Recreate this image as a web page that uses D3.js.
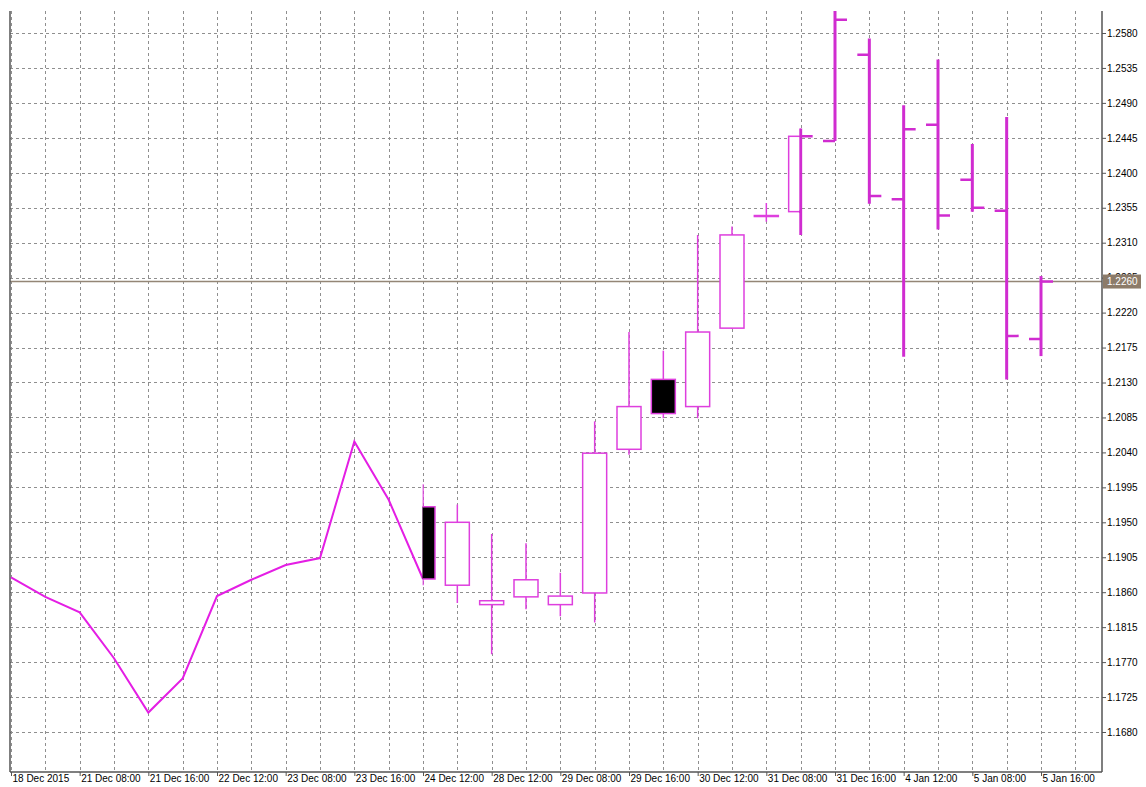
<!DOCTYPE html>
<html>
<head>
<meta charset="utf-8">
<script src="https://cdn.jsdelivr.net/npm/d3@7"></script>
<style>
  body { margin: 0; background: #fff; }
  text { font-family: "Liberation Sans", Arial, sans-serif; font-size: 10px; fill: #000; }
</style>
</head>
<body>
<div id="chart"></div>
<script>
//Time labels, one on every second bar
const timeLabels = ["18 Dec 2015", "21 Dec 08:00", "21 Dec 16:00", "22 Dec 12:00", "23 Dec 08:00",
  "23 Dec 16:00", "24 Dec 12:00", "28 Dec 12:00", "29 Dec 08:00", "29 Dec 16:00", "30 Dec 12:00",
  "31 Dec 08:00", "31 Dec 16:00", "4 Jan 12:00", "5 Jan 08:00", "5 Jan 16:00"];

//Price labels on the right axis
const priceTicks = [1.1680, 1.1725, 1.1770, 1.1815, 1.1860, 1.1905, 1.1950, 1.1995, 1.2040, 1.2085,
  1.2130, 1.2175, 1.2220, 1.2265, 1.2310, 1.2355, 1.2400, 1.2445, 1.2490, 1.2535, 1.2580];

//Bars 0..12 drawn as a line (close only)
const lineCloses = [1.1879, 1.1854, 1.1834, 1.1775, 1.1705, 1.1749, 1.1855, 1.1876, 1.1895,
  1.1904, 1.2054, 1.1979, 1.1877];

//Bars 12..30 with full OHLC: 12..23 as candles, 23..30 as bars
const ohlcStart = 12;
const candleEnd = 23;
const opens  = [1.1970, 1.1869, 1.1844, 1.1854, 1.1844, 1.1859, 1.2044, 1.2134, 1.2099, 1.2200,
  1.2345, 1.2350, 1.2441, 1.2552, 1.2366, 1.2462, 1.2391, 1.2351, 1.2186];
const highs  = [1.1999, 1.1973, 1.1935, 1.1923, 1.1885, 1.2080, 1.2195, 1.2171, 1.2320, 1.2331,
  1.2361, 1.2457, 1.2615, 1.2573, 1.2487, 1.2546, 1.2437, 1.2472, 1.2267];
const lows   = [1.1869, 1.1846, 1.1780, 1.1838, 1.1829, 1.1821, 1.2037, 1.2084, 1.2084, 1.2199,
  1.2337, 1.2320, 1.2441, 1.2360, 1.2163, 1.2327, 1.2350, 1.2134, 1.2164];
const closes = [1.1877, 1.1950, 1.1849, 1.1876, 1.1855, 1.2039, 1.2099, 1.2090, 1.2195, 1.2320,
  1.2345, 1.2447, 1.2597, 1.2370, 1.2456, 1.2345, 1.2355, 1.2190, 1.2260];

const currentPrice = 1.2260;

/////////////////////////////////////////////////////////
//////////////////// Layout & scales ////////////////////
/////////////////////////////////////////////////////////

const W = 1146, H = 787;
const plot = {left: 10, right: 1102, top: 11, bottom: 772};
const barCount = lineCloses.length + opens.length - 1;   //31 bars

const x = d3.scaleLinear().domain([0, barCount - 1]).range([11, 1041]);
const y = d3.scaleLinear().domain([1.1680, 1.2580]).range([732, 33]);
const step = x(1) - x(0);
const bodyHalf = 12;

const bars = opens.map((o, i) => ({i: i + ohlcStart, o: o, h: highs[i], l: lows[i], c: closes[i]}));

const svg = d3.select("#chart").append("svg")
  .attr("width", W).attr("height", H);

const defs = svg.append("defs");
function clip(id, x0, x1) {
  defs.append("clipPath").attr("id", id).append("rect")
    .attr("x", x0).attr("y", plot.top).attr("width", x1 - x0).attr("height", plot.bottom - plot.top);
}
clip("clipLine", plot.left, x(ohlcStart) + 1);
clip("clipCandle", x(ohlcStart) - 0.5, x(candleEnd));
clip("clipBar", x(candleEnd) - 1.5, plot.right);

/////////////////////////////////////////////////////////
///////////////////////// Grid //////////////////////////
/////////////////////////////////////////////////////////

const grid = svg.append("g").attr("class", "grid")
  .style("stroke", "#8f8f8f").style("stroke-width", 1).style("stroke-dasharray", "3,3");

grid.selectAll(".hgrid").data(priceTicks).enter().append("line")
  .attr("x1", plot.left).attr("x2", plot.right)
  .attr("y1", d => Math.round(y(d)) + 0.5).attr("y2", d => Math.round(y(d)) + 0.5);

grid.selectAll(".vgrid").data(d3.range(0, barCount + 1)).enter().append("line")
  .attr("x1", d => Math.round(x(d)) + 0.5).attr("x2", d => Math.round(x(d)) + 0.5)
  .attr("y1", plot.top).attr("y2", plot.bottom);

//Current price line
svg.append("line")
  .attr("x1", plot.left).attr("x2", plot.right)
  .attr("y1", y(currentPrice)).attr("y2", y(currentPrice))
  .style("stroke", "#948676").style("stroke-width", 1.5);

/////////////////////////////////////////////////////////
///////////////////////// Line //////////////////////////
/////////////////////////////////////////////////////////

svg.append("path")
  .datum(lineCloses)
  .attr("clip-path", "url(#clipLine)")
  .attr("d", d3.line().x((d, i) => x(i)).y(d => y(d)))
  .style("fill", "none").style("stroke", "#e41ee4").style("stroke-width", 2);

/////////////////////////////////////////////////////////
/////////////////////// Candles /////////////////////////
/////////////////////////////////////////////////////////

const candles = svg.append("g").attr("clip-path", "url(#clipCandle)")
  .selectAll(".candle").data(bars.filter(d => d.i <= candleEnd)).enter()
  .append("g").attr("class", "candle");

candles.append("line")
  .attr("x1", d => x(d.i)).attr("x2", d => x(d.i))
  .attr("y1", d => y(d.h)).attr("y2", d => y(d.l))
  .style("stroke", "#de3fde").style("stroke-width", 1.5);

candles.append("rect")
  .attr("x", d => x(d.i) - bodyHalf)
  .attr("width", bodyHalf * 2)
  .attr("y", d => y(Math.max(d.o, d.c)))
  .attr("height", d => Math.max(1, Math.abs(y(d.o) - y(d.c))))
  .style("fill", d => d.c < d.o ? "#000" : "#fff")
  .style("stroke", "#de3fde").style("stroke-width", 1.5);

/////////////////////////////////////////////////////////
///////////////////////// Bars //////////////////////////
/////////////////////////////////////////////////////////

const ohlcBars = svg.append("g").attr("clip-path", "url(#clipBar)")
  .selectAll(".bar").data(bars.filter(d => d.i >= candleEnd)).enter()
  .append("g").attr("class", "bar")
  .style("stroke", "#d02cd0");

ohlcBars.append("line")
  .attr("x1", d => x(d.i)).attr("x2", d => x(d.i))
  .attr("y1", d => y(d.h)).attr("y2", d => y(d.l))
  .style("stroke-width", 3);

ohlcBars.append("line")
  .attr("x1", d => x(d.i) - bodyHalf).attr("x2", d => x(d.i))
  .attr("y1", d => y(d.o)).attr("y2", d => y(d.o))
  .style("stroke-width", 2.5);

ohlcBars.append("line")
  .attr("x1", d => x(d.i)).attr("x2", d => x(d.i) + bodyHalf)
  .attr("y1", d => y(d.c)).attr("y2", d => y(d.c))
  .style("stroke-width", 2.5);

/////////////////////////////////////////////////////////
///////////////////////// Axes //////////////////////////
/////////////////////////////////////////////////////////

const frame = svg.append("g").style("stroke", "#555").style("stroke-width", 1.5);
frame.append("line").attr("x1", plot.left).attr("x2", plot.left).attr("y1", plot.top).attr("y2", plot.bottom);
frame.append("line").attr("x1", plot.right).attr("x2", plot.right).attr("y1", plot.top).attr("y2", plot.bottom);
frame.append("line").attr("x1", plot.left).attr("x2", plot.right).attr("y1", plot.bottom).attr("y2", plot.bottom);

//Right price axis
const yAxis = d3.axisRight(y).tickValues(priceTicks).tickSize(4).tickFormat(d3.format(".4f"));
svg.append("g")
  .attr("transform", "translate(" + plot.right + ",0)")
  .call(yAxis)
  .call(g => g.select(".domain").remove())
  .call(g => g.selectAll("line").style("stroke", "#555"))
  .call(g => g.selectAll("text").attr("x", 5).style("font-family", "Liberation Sans, Arial, sans-serif").style("font-size", "10px").attr("fill", "#000"));

//Bottom time axis, labels left aligned to their tick
const timeIdx = timeLabels.map((t, k) => k * 2);
const xAxis = d3.axisBottom(x).tickValues(timeIdx).tickSize(4).tickFormat((d, k) => timeLabels[k]);
svg.append("g")
  .attr("transform", "translate(0," + plot.bottom + ")")
  .call(xAxis)
  .call(g => g.select(".domain").remove())
  .call(g => g.selectAll("line").style("stroke", "#555"))
  .call(g => g.selectAll("text")
    .attr("text-anchor", "start").attr("x", 1).attr("y", 3).attr("dy", "0.71em")
    .style("font-family", "Liberation Sans, Arial, sans-serif").style("font-size", "10px").attr("fill", "#000"));

//Current price tag
const tag = svg.append("g").attr("transform", "translate(" + (plot.right + 1) + "," + y(currentPrice) + ")");
tag.append("rect").attr("x", 0).attr("y", -7).attr("width", 38).attr("height", 14).style("fill", "#8c7b69");
tag.append("text").attr("x", 4).attr("dy", "0.35em").style("fill", "#fff").text(d3.format(".4f")(currentPrice));
</script>
</body>
</html>
